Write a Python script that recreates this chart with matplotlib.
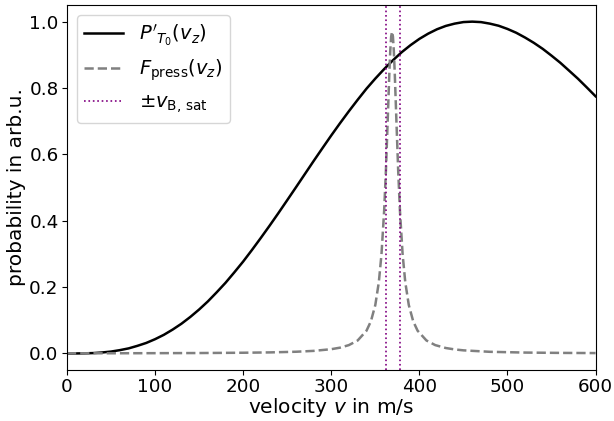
import numpy as np
import matplotlib
matplotlib.use("Agg")
import matplotlib.pyplot as plt

# velocity distribution
v_dist = [0, 10, 20, 30, 40, 50, 60, 70, 80, 90, 100, 110, 120, 130, 140, 150, 160, 170,
          180, 190, 200, 210, 220, 230, 240, 250, 260, 270, 280, 290, 300, 310, 320, 330,
          340, 350, 360, 370, 380, 390, 400, 410, 420, 430, 440, 450, 460, 470, 480, 490,
          500, 510, 520, 530, 540, 550, 560, 570, 580, 590, 600]
p_dist = [0.0, 0.00005, 0.0004, 0.0012, 0.003, 0.0057, 0.010, 0.0153, 0.023, 0.0317,
          0.043, 0.0562, 0.072, 0.0897, 0.110, 0.1324, 0.157, 0.1844, 0.213, 0.2445,
          0.277, 0.3119, 0.348, 0.385, 0.423, 0.4619, 0.501, 0.5405, 0.580, 0.6187,
          0.657, 0.6941, 0.730, 0.7646, 0.798, 0.8284, 0.857, 0.8836, 0.908, 0.9292,
          0.948, 0.9638, 0.977, 0.9871, 0.994, 0.9987, 1.0, 0.9986, 0.994, 0.9876,
          0.978, 0.9664, 0.952, 0.936, 0.918, 0.8975, 0.876, 0.8521, 0.828, 0.8018, 0.775]

# pressure-broadened force profile
v_press = [0, 50, 100, 150, 200, 230, 260, 280, 300, 310, 320, 330, 340, 345, 350, 354,
           357, 360, 362, 364, 366, 367, 368, 369, 370, 371, 372, 374, 376, 378, 381, 384,
           388, 393, 398, 408, 418, 430, 440, 450, 480, 520, 560, 600]
f_press = [0.0005, 0.0006, 0.0009, 0.0013, 0.0022, 0.0032, 0.0052, 0.0078, 0.0129,
           0.0175, 0.0252, 0.0392, 0.0686, 0.097, 0.146, 0.215, 0.2985, 0.428, 0.549,
           0.6975, 0.850, 0.913, 0.955, 0.97, 0.955, 0.913, 0.850, 0.6975, 0.549, 0.428,
           0.2985, 0.215, 0.146, 0.097, 0.0686, 0.0392, 0.0252, 0.0164, 0.0122, 0.0094,
           0.005, 0.0027, 0.0017, 0.0012]

# saturation velocities
v_sat = [362, 378]

fig, ax = plt.subplots(figsize=(6.14, 4.21), dpi=100)
ax.plot(v_dist, p_dist, color="black", lw=1.8, label=r"$P'_{T_0}(v_z)$")
ax.plot(v_press, f_press, color="gray", ls="--", lw=1.8, label=r"$F_\mathrm{press}(v_z)$")
ax.axvline(v_sat[0], color="purple", ls=":", lw=1.2, label=r"$\pm v_{\mathrm{B,\,sat}}$")
ax.axvline(v_sat[1], color="purple", ls=":", lw=1.2)

ax.set_xlim(0, 600)
ax.set_ylim(-0.05, 1.05)
ax.set_xlabel(r"velocity $v$ in m/s", fontsize=14.5, labelpad=0)
ax.set_ylabel("probability in arb.u.", fontsize=14.5, labelpad=2)
ax.tick_params(labelsize=13.2, pad=2.5)
ax.legend(loc="upper left", fontsize=14)

fig.subplots_adjust(left=0.109, right=0.970, top=0.988, bottom=0.121)
fig.savefig("out.png", dpi=100)
